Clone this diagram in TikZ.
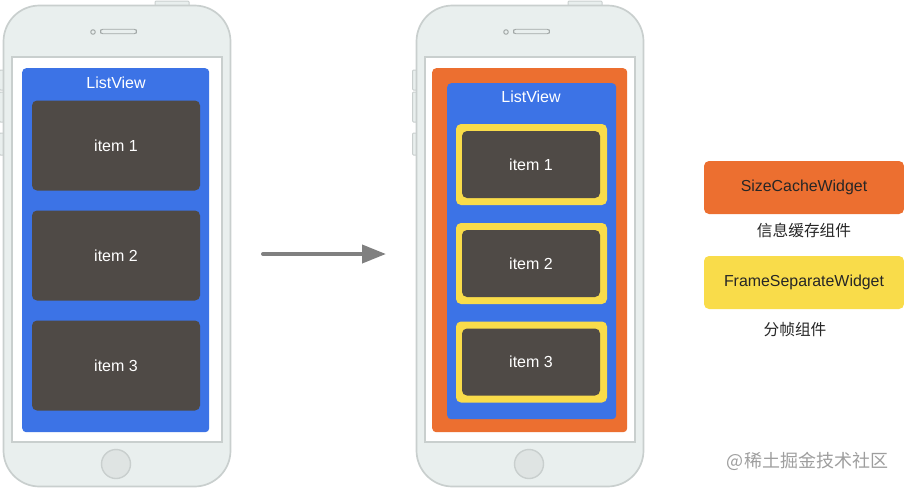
\documentclass[tikz,border=0pt]{standalone}
\usepackage{fontspec}
\usetikzlibrary{arrows.meta}
\setmainfont{Liberation Sans}
\newfontfamily\cjk{Noto Sans CJK SC}

\tikzset{
	phonebody/.style={draw=frameline,fill=framefill,line width=1.7pt,rounded corners=36pt,minimum width=227pt,minimum height=481pt,inner sep=0pt},
	phonekey/.style={draw=frameline,fill=framefill,line width=1pt,rounded corners=1pt,inner sep=0pt},
	screen/.style={draw=frameline,fill=white,line width=1.4pt,minimum width=210pt,minimum height=385pt,inner sep=0pt},
	homekey/.style={circle,draw=frameline,fill=homefill,line width=1.4pt,minimum size=29pt,inner sep=0pt},
	speaker/.style={draw=speakerline,fill=framefill,line width=.9pt,rounded corners=2.4pt,minimum width=36pt,minimum height=4.5pt,inner sep=0pt},
	camera/.style={circle,draw=speakerline,fill=framefill,line width=1pt,minimum size=4.5pt,inner sep=0pt},
	panel/.style={rounded corners=4pt,inner sep=0pt,text=white,font=\fontsize{16}{18}\selectfont},
	listview/.style={panel,fill=listblue,anchor=north west},
	itembox/.style={panel,fill=itemgray,minimum width=#1,minimum height=90pt,rounded corners=5pt},
	legendbox/.style={rounded corners=5pt,minimum width=200pt,minimum height=53pt,inner sep=0pt,font=\fontsize{15.9}{18}\selectfont,text=black!85},
	caption/.style={inner sep=0pt,text=black!85,font=\cjk\fontsize{15.7}{18}\selectfont},
}
\definecolor{frameline}{HTML}{C9CFCE}
\definecolor{framefill}{HTML}{E9EFEE}
\definecolor{homefill}{HTML}{DFE4E3}
\definecolor{speakerline}{HTML}{A3A9A8}
\definecolor{listblue}{HTML}{3C73E6}
\definecolor{itemgray}{HTML}{4F4A46}
\definecolor{cacheorange}{HTML}{EC6F30}
\definecolor{frameyellow}{HTML}{F9DC4A}
\definecolor{arrowgray}{HTML}{808080}

\begin{document}
\begin{tikzpicture}[x=1pt,y=-1pt]
	\useasboundingbox (0,0) rectangle (904,488);

	% the two phones, second one shifted to the right
	\foreach \name/\dx in {a/0,b/413} {
		\begin{scope}[xshift=\dx pt]
			\node[phonekey,minimum width=34pt,minimum height=6pt] (\name top) at (172,4) {};
			\node[phonekey,minimum width=5pt,minimum height=20pt] (\name mute) at (2,80) {};
			\node[phonekey,minimum width=5pt,minimum height=30pt] (\name up) at (2,107) {};
			\node[phonekey,minimum width=5pt,minimum height=22pt] (\name down) at (2,144) {};
			\node[phonebody] (\name body) at (117,246) {};
			\node[screen] (\name screen) at (117,249.5) {};
			\node[homekey] (\name home) at (116,464) {};
			\node[speaker] (\name speaker) at (118.5,31.5) {};
			\node[camera] (\name camera) at (93,32) {};
		\end{scope}
	}

	% left phone
	\node[listview,minimum width=187pt,minimum height=364pt] (list) at (22,68) {};
	\node[panel] (listname) at (116,83) {ListView};
	\node[itembox=168pt] (item1) at (116,145.5) {item 1};
	\node[itembox=168pt] (item2) at (116,255.5) {item 2};
	\node[itembox=168pt] (item3) at (116,365.5) {item 3};

	% right phone
	\node[panel,fill=cacheorange,anchor=north west,minimum width=195pt,minimum height=364pt] (cache) at (432,68) {};
	\node[listview,minimum width=169pt,minimum height=336pt] (wlist) at (447,83) {};
	\node[panel] (wlistname) at (531,97) {ListView};
	\foreach \i/\y in {1/164.5,2/263.5,3/362} {
		\node[panel,fill=frameyellow,minimum width=151pt,minimum height=81pt,rounded corners=5pt] (frame\i) at (531.5,\y) {};
		\node[itembox=138pt,minimum height=67pt] (witem\i) at (531,\y) {item \i};
	}

	\coordinate (from) at (263,254);
	\coordinate (to) at (386,254);
	\draw[arrowgray,line width=4pt,line cap=round,-{Triangle[length=24pt,width=18pt]}] (from) -- (to);

	% legend
	\node[legendbox,fill=cacheorange] (sizecache) at (804,187.5) {SizeCacheWidget};
	\node[caption] (sizecachename) at (804,230) {信息缓存组件};
	\node[legendbox,fill=frameyellow] (framesep) at (804,282.5) {FrameSeparateWidget};
	\node[caption] (framesepname) at (795,330) {分帧组件};

	\node[inner sep=0pt,text=black!38,font=\cjk\fontsize{18}{20}\selectfont] (mark) at (807.5,461) {@稀土掘金技术社区};
\end{tikzpicture}
\end{document}
